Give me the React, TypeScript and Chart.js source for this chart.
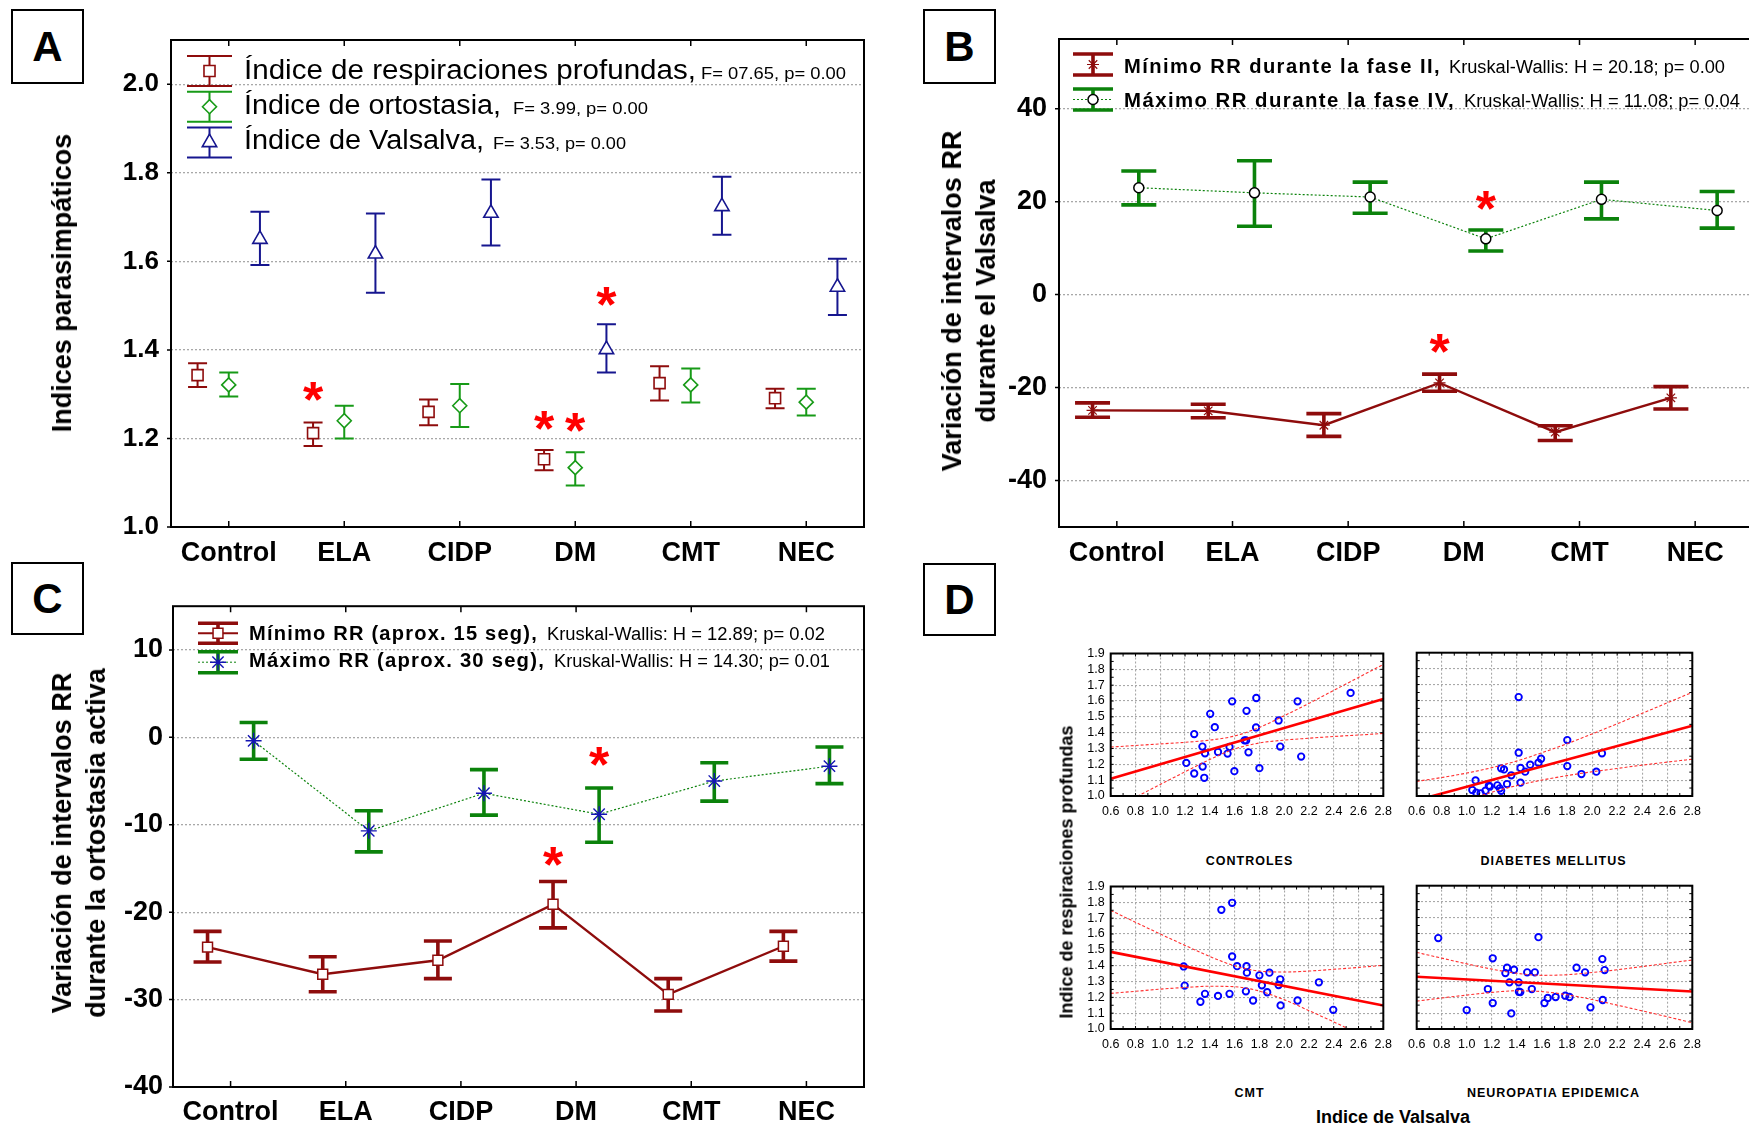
import React, { useEffect, useRef } from 'react';
import { Chart, registerables } from 'chart.js';

Chart.register(...registerables);

const FONT = '"Liberation Sans", Arial, Helvetica, sans-serif';

// ===================== DATA =====================
const categories = ['Control', 'ELA', 'CIDP', 'DM', 'CMT', 'NEC'];

// ---- Panel A : índices parasimpáticos (media, límite inferior, límite superior)
const aYTicks = [1.0, 1.2, 1.4, 1.6, 1.8, 2.0];
const aRespMean = [1.343, 1.212, 1.26, 1.153, 1.325, 1.291];
const aRespLow = [1.316, 1.183, 1.23, 1.128, 1.286, 1.268];
const aRespHigh = [1.37, 1.236, 1.288, 1.174, 1.363, 1.312];
const aOrtoMean = [1.321, 1.24, 1.274, 1.134, 1.321, 1.282];
const aOrtoLow = [1.295, 1.2, 1.226, 1.094, 1.281, 1.252];
const aOrtoHigh = [1.349, 1.274, 1.323, 1.169, 1.358, 1.312];
const aValsMean = [1.65, 1.617, 1.709, 1.401, 1.724, 1.542];
const aValsLow = [1.592, 1.529, 1.636, 1.349, 1.66, 1.479];
const aValsHigh = [1.712, 1.708, 1.785, 1.458, 1.791, 1.606];
const aNames = ['Índice de respiraciones profundas,', 'Índice de ortostasia,', 'Índice de Valsalva,'];
const aStats = ['F= 07.65, p= 0.00', 'F= 3.99, p= 0.00', 'F= 3.53, p= 0.00'];
const aSigCat = [1, 3, 3, 3];
const aSigSeries = [0, 0, 1, 2];
const aSigY = [1.303, 1.238, 1.234, 1.517];

// ---- Panel B : Valsalva
const bYTicks = [-40, -20, 0, 20, 40];
const bMinMean = [-24.9, -25.0, -28.1, -19.0, -29.6, -22.2];
const bMinLow = [-26.4, -26.5, -30.5, -20.8, -31.4, -24.6];
const bMinHigh = [-23.3, -23.6, -25.6, -17.1, -28.2, -19.8];
const bMaxMean = [23.0, 21.9, 21.0, 12.0, 20.5, 18.1];
const bMaxLow = [19.3, 14.7, 17.5, 9.4, 16.3, 14.3];
const bMaxHigh = [26.6, 28.8, 24.2, 13.9, 24.2, 22.2];
const bNames = ['Mínimo RR durante la fase II,', 'Máximo RR durante la fase IV,'];
const bStats = ['Kruskal-Wallis: H = 20.18; p= 0.00', 'Kruskal-Wallis: H = 11.08; p= 0.04'];
const bSigCat = [3, 3];
const bSigSeries = [0, 1];
const bSigY = [-10.8, 20.1];

// ---- Panel C : ortostasia activa
const cYTicks = [-40, -30, -20, -10, 0, 10];
const cMinMean = [-24.0, -27.1, -25.5, -19.1, -29.4, -23.9];
const cMinLow = [-25.7, -29.1, -27.6, -21.8, -31.3, -25.6];
const cMinHigh = [-22.2, -25.1, -23.3, -16.5, -27.6, -22.2];
const cMaxMean = [-0.4, -10.7, -6.4, -8.8, -5.0, -3.3];
const cMaxLow = [-2.5, -13.1, -8.9, -12.0, -7.3, -5.3];
const cMaxHigh = [1.7, -8.4, -3.7, -5.8, -2.9, -1.1];
const cNames = ['Mínimo RR (aprox. 15 seg),', 'Máximo RR (aprox. 30 seg),'];
const cStats = ['Kruskal-Wallis: H = 12.89; p= 0.02', 'Kruskal-Wallis: H = 14.30; p= 0.01'];
const cSigCat = [3, 3];
const cSigSeries = [0, 1];
const cSigY = [-13.8, -2.3];

// ---- Panel D : dispersión Valsalva vs respiraciones profundas
const dXTicks = [0.6, 0.8, 1.0, 1.2, 1.4, 1.6, 1.8, 2.0, 2.2, 2.4, 2.6, 2.8];
const dYTicks = [1.0, 1.1, 1.2, 1.3, 1.4, 1.5, 1.6, 1.7, 1.8, 1.9];
const dTitles = ['CONTROLES', 'DIABETES MELLITUS', 'CMT', 'NEUROPATIA EPIDEMICA'];
const dXTitle = 'Indice de Valsalva';
const dYTitle = 'Indice de respiraciones profundas';
const bandX = [0.6, 0.8, 1.0, 1.2, 1.4, 1.6, 1.8, 2.0, 2.2, 2.4, 2.6, 2.8];
const fitX = [0.6, 2.8];

const ctrlX = [1.58, 1.775, 1.696, 1.403, 1.44, 1.274, 1.773, 1.955, 2.108, 2.536, 1.68, 1.693, 1.34, 1.361, 1.466, 1.543, 1.559, 1.712, 1.968, 2.137, 1.21, 1.342, 1.274, 1.355, 1.598, 1.8];
const ctrlY = [1.598, 1.619, 1.538, 1.519, 1.435, 1.391, 1.433, 1.477, 1.598, 1.651, 1.351, 1.351, 1.312, 1.27, 1.278, 1.268, 1.31, 1.276, 1.312, 1.249, 1.209, 1.186, 1.142, 1.115, 1.157, 1.176];
const ctrlFit = [1.109, 1.613];
const ctrlUpper = [1.309, 1.319, 1.329, 1.339, 1.353, 1.379, 1.433, 1.507, 1.585, 1.667, 1.749, 1.831];
const ctrlLower = [0.909, 0.992, 1.073, 1.153, 1.231, 1.297, 1.335, 1.353, 1.365, 1.376, 1.385, 1.395];

const dmX = [1.414, 1.802, 1.414, 2.079, 1.593, 1.572, 1.506, 1.802, 1.274, 1.297, 1.429, 1.466, 1.355, 1.321, 1.429, 1.915, 2.034, 1.07, 1.044, 1.075, 1.11, 1.149, 1.184, 1.244, 1.274, 1.263, 1.176];
const dmY = [1.621, 1.351, 1.272, 1.268, 1.234, 1.209, 1.197, 1.188, 1.174, 1.167, 1.176, 1.153, 1.13, 1.075, 1.084, 1.138, 1.153, 1.098, 1.038, 1.021, 1.017, 1.033, 1.059, 1.067, 1.033, 1.048, 1.065];
const dmFit = [0.973, 1.441];
const dmUpper = [1.092, 1.116, 1.144, 1.178, 1.22, 1.272, 1.328, 1.39, 1.453, 1.519, 1.585, 1.651];
const dmLower = [0.854, 0.916, 0.972, 1.024, 1.066, 1.1, 1.128, 1.152, 1.173, 1.194, 1.213, 1.231];

const cmtX = [1.58, 1.493, 1.58, 1.62, 1.696, 1.699, 1.8, 1.881, 1.189, 1.197, 1.82, 1.968, 1.955, 1.691, 1.863, 2.28, 1.559, 1.361, 1.466, 1.324, 1.749, 2.108, 1.971, 2.396];
const cmtY = [1.797, 1.753, 1.458, 1.397, 1.397, 1.356, 1.339, 1.356, 1.395, 1.274, 1.276, 1.314, 1.278, 1.238, 1.232, 1.295, 1.222, 1.222, 1.209, 1.172, 1.18, 1.18, 1.149, 1.121];
const cmtFit = [1.487, 1.149];
const cmtUpper = [1.749, 1.674, 1.6, 1.528, 1.458, 1.399, 1.366, 1.36, 1.366, 1.377, 1.389, 1.402];
const cmtLower = [1.225, 1.238, 1.252, 1.262, 1.27, 1.267, 1.24, 1.185, 1.116, 1.045, 0.971, 0.896];

const necX = [0.772, 1.572, 1.207, 2.082, 1.321, 1.377, 1.308, 1.482, 1.543, 1.876, 1.944, 2.1, 1.34, 1.414, 1.168, 1.427, 1.416, 1.519, 1.207, 0.999, 1.355, 1.62, 1.646, 1.709, 1.786, 1.82, 1.987, 2.085];
const necY = [1.571, 1.577, 1.444, 1.439, 1.385, 1.372, 1.351, 1.356, 1.356, 1.385, 1.356, 1.37, 1.293, 1.293, 1.251, 1.232, 1.234, 1.251, 1.163, 1.119, 1.098, 1.163, 1.195, 1.201, 1.209, 1.201, 1.136, 1.182];
const necFit = [1.328, 1.236];
const necUpper = [1.481, 1.445, 1.409, 1.376, 1.35, 1.337, 1.341, 1.355, 1.372, 1.392, 1.413, 1.433];
const necLower = [1.175, 1.195, 1.213, 1.23, 1.24, 1.235, 1.215, 1.185, 1.15, 1.114, 1.077, 1.039];

// ===================== STYLE =====================
const RED = '#8e0c0c';
const GREEN_A = '#179a17';
const BLUE = '#16168f';
const GREEN = '#0b820b';
const STAR_BLUE = '#1414b4';
const SIG = '#ff0000';
const GRID = '#a8a8a8';

interface LineDef { color: string; width: number; dash: number[] }
interface SeriesDef {
  mean: number[]; low: number[]; high: number[]; offset: number; color: string;
  barWidth: number; capHalf: number; marker: string; radius: number;
  mStroke: string; mFill: string; mWidth: number; line: LineDef | null;
}
interface LegendRow {
  series: number; cy: number; capDy: number; name: string; stat: string;
  nameX: number; nameW: number; statX: number; statW: number; baseline: number; line: LineDef | null;
}
interface PanelDef {
  left: number; top: number; w: number; h: number;
  area: { l: number; t: number; r: number; b: number };
  yMin: number; yMax: number; yTicks: number[]; yFmt: (v: number) => string;
  yPad: number; xPad: number; tickSize: number;
  series: SeriesDef[];
  legend: { iconX: number; iconHalf: number; nameFont: string; statFont: string; spacing: number; rows: LegendRow[] };
  sig: { cat: number[]; series: number[]; y: number[] };
}

function drawMarker(ctx: CanvasRenderingContext2D, style: string, r: number, x: number, y: number, fill: string, stroke: string, lw: number) {
  ctx.save();
  ctx.setLineDash([]);
  ctx.lineWidth = lw;
  ctx.strokeStyle = stroke;
  ctx.fillStyle = fill;
  ctx.beginPath();
  if (style === 'rect') {
    const s = r * Math.SQRT1_2;
    ctx.rect(x - s, y - s, 2 * s, 2 * s);
  } else if (style === 'rectRot') {
    ctx.moveTo(x - r, y); ctx.lineTo(x, y - r); ctx.lineTo(x + r, y); ctx.lineTo(x, y + r); ctx.closePath();
  } else if (style === 'triangle') {
    ctx.moveTo(x, y - r); ctx.lineTo(x + 0.866 * r, y + 0.5 * r); ctx.lineTo(x - 0.866 * r, y + 0.5 * r); ctx.closePath();
  } else if (style === 'circle') {
    ctx.arc(x, y, r, 0, Math.PI * 2);
  } else if (style === 'star') {
    for (let k = 0; k < 4; k++) {
      const a = (k * Math.PI) / 4;
      ctx.moveTo(x - Math.cos(a) * r, y - Math.sin(a) * r);
      ctx.lineTo(x + Math.cos(a) * r, y + Math.sin(a) * r);
    }
  }
  if (style !== 'star') ctx.fill();
  ctx.stroke();
  ctx.restore();
}

function fitText(ctx: CanvasRenderingContext2D, text: string, x: number, baseline: number, width: number, font: string, spacing: number) {
  ctx.save();
  ctx.font = font;
  (ctx as any).letterSpacing = spacing + 'px';
  ctx.fillStyle = '#000';
  ctx.textAlign = 'left';
  ctx.textBaseline = 'alphabetic';
  const w = ctx.measureText(text).width;
  ctx.translate(x, baseline);
  ctx.scale(width / w, 1);
  ctx.fillText(text, 0, 0);
  ctx.restore();
}

function drawAsterisk(ctx: CanvasRenderingContext2D, x: number, y: number, h: number) {
  ctx.save();
  ctx.font = `bold 60px ${FONT}`;
  const m = ctx.measureText('*');
  const asc = m.actualBoundingBoxAscent;
  const desc = m.actualBoundingBoxDescent;
  const s = h / (asc + desc);
  ctx.translate(x, y);
  ctx.scale(s * 1.05, s);
  ctx.textAlign = 'center';
  ctx.textBaseline = 'alphabetic';
  ctx.fillStyle = SIG;
  ctx.fillText('*', 0, (asc - desc) / 2);
  ctx.restore();
}

function buildErrorChart(p: PanelDef): any {
  const ox = p.left, oy = p.top;
  const plugin = {
    id: 'errPanel',
    beforeDatasetsDraw(chart: any) {
      const ctx: CanvasRenderingContext2D = chart.ctx;
      const xs = chart.scales.x, ys = chart.scales.y;
      ctx.save();
      p.series.forEach((s) => {
        ctx.strokeStyle = s.color;
        ctx.lineWidth = s.barWidth;
        ctx.lineCap = 'butt';
        ctx.setLineDash([]);
        s.mean.forEach((_, i) => {
          const x = xs.getPixelForValue(i + s.offset);
          const yl = ys.getPixelForValue(s.low[i]);
          const yh = ys.getPixelForValue(s.high[i]);
          ctx.beginPath();
          ctx.moveTo(x, yl); ctx.lineTo(x, yh);
          ctx.moveTo(x - s.capHalf, yl); ctx.lineTo(x + s.capHalf, yl);
          ctx.moveTo(x - s.capHalf, yh); ctx.lineTo(x + s.capHalf, yh);
          ctx.stroke();
        });
      });
      ctx.restore();
    },
    afterDatasetsDraw(chart: any) {
      const ctx: CanvasRenderingContext2D = chart.ctx;
      const xs = chart.scales.x, ys = chart.scales.y;
      p.sig.cat.forEach((c, k) => {
        const s = p.series[p.sig.series[k]];
        drawAsterisk(ctx, xs.getPixelForValue(c + s.offset), ys.getPixelForValue(p.sig.y[k]), 19);
      });
    },
    afterDraw(chart: any) {
      const ctx: CanvasRenderingContext2D = chart.ctx;
      const a = chart.chartArea;
      const xs = chart.scales.x, ys = chart.scales.y;
      ctx.save();
      ctx.setLineDash([]);
      ctx.strokeStyle = '#000';
      ctx.lineWidth = 2;
      ctx.strokeRect(a.left, a.top, a.right - a.left, a.bottom - a.top);
      ctx.lineWidth = 1.5;
      ctx.beginPath();
      categories.forEach((_, i) => {
        const x = xs.getPixelForValue(i);
        ctx.moveTo(x, a.top); ctx.lineTo(x, a.top + 6);
        ctx.moveTo(x, a.bottom); ctx.lineTo(x, a.bottom - 6);
      });
      p.yTicks.forEach((v) => {
        const y = ys.getPixelForValue(v);
        ctx.moveTo(a.left - 4, y); ctx.lineTo(a.left, y);
      });
      ctx.stroke();
      // legend
      const L = p.legend;
      L.rows.forEach((row) => {
        const s = p.series[row.series];
        const cx = L.iconX - ox, cy = row.cy - oy, h = L.iconHalf;
        if (row.line) {
          ctx.save();
          ctx.strokeStyle = row.line.color;
          ctx.lineWidth = row.line.width;
          ctx.setLineDash(row.line.dash);
          ctx.beginPath();
          ctx.moveTo(cx - h, cy); ctx.lineTo(cx + h, cy);
          ctx.stroke();
          ctx.restore();
        }
        ctx.strokeStyle = s.color;
        ctx.lineWidth = s.barWidth;
        ctx.setLineDash([]);
        ctx.beginPath();
        ctx.moveTo(cx, cy - row.capDy); ctx.lineTo(cx, cy + row.capDy);
        ctx.moveTo(cx - h, cy - row.capDy); ctx.lineTo(cx + h, cy - row.capDy);
        ctx.moveTo(cx - h, cy + row.capDy); ctx.lineTo(cx + h, cy + row.capDy);
        ctx.stroke();
        drawMarker(ctx, s.marker, s.radius, cx, cy, s.mFill, s.mStroke, s.mWidth);
        fitText(ctx, row.name, row.nameX - ox, row.baseline - oy, row.nameW, L.nameFont, L.spacing);
        fitText(ctx, row.stat, row.statX - ox, row.baseline - oy, row.statW, L.statFont, 0);
      });
      ctx.restore();
    },
  };

  const datasets = p.series.map((s) => ({
    type: 'line',
    data: s.mean.map((m, i) => ({ x: i + s.offset, y: m })),
    showLine: !!s.line,
    borderColor: s.line ? s.line.color : s.color,
    borderWidth: s.line ? s.line.width : 0,
    borderDash: s.line ? s.line.dash : [],
    tension: 0,
    pointStyle: s.marker,
    pointRadius: s.radius,
    pointBackgroundColor: s.mFill,
    pointBorderColor: s.mStroke,
    pointBorderWidth: s.mWidth,
    clip: false,
  }));

  const tickFont = { family: FONT, size: p.tickSize, weight: 'bold' as const };
  return {
    type: 'line',
    data: { datasets },
    options: {
      responsive: false,
      animation: false,
      devicePixelRatio: 1,
      events: [],
      layout: { autoPadding: false, padding: { left: 0, top: p.area.t - oy, right: ox + p.w - p.area.r, bottom: 0 } },
      plugins: { legend: { display: false }, tooltip: { enabled: false }, title: { display: false } },
      scales: {
        x: {
          type: 'linear', min: -0.5, max: 5.5,
          afterBuildTicks: (sc: any) => { sc.ticks = categories.map((_, i) => ({ value: i })); },
          afterFit: (sc: any) => { sc.height = oy + p.h - p.area.b; },
          ticks: { callback: (v: number) => categories[v] ?? '', font: { family: FONT, size: 27, weight: 'bold' }, color: '#000', padding: p.xPad, autoSkip: false, maxRotation: 0, minRotation: 0 },
          grid: { display: false, drawTicks: false },
          border: { display: false },
        },
        y: {
          type: 'linear', min: p.yMin, max: p.yMax,
          afterBuildTicks: (sc: any) => { sc.ticks = p.yTicks.map((v) => ({ value: v })); },
          afterFit: (sc: any) => { sc.width = p.area.l - ox; },
          ticks: { callback: (v: number) => p.yFmt(v), font: tickFont, color: '#000', padding: p.yPad, autoSkip: false },
          grid: { color: GRID, lineWidth: 1.3, drawTicks: false },
          border: { display: false, dash: [2, 2] },
        },
      },
    },
    plugins: [plugin],
  };
}

interface ScatterDef {
  left: number; top: number; w: number; h: number;
  area: { l: number; t: number; r: number; b: number };
  px: number[]; py: number[]; fit: number[]; upper: number[]; lower: number[]; showY: boolean;
}

function buildScatter(d: ScatterDef): any {
  const ox = d.left, oy = d.top;
  const plugin = {
    id: 'scFrame',
    afterDraw(chart: any) {
      const ctx: CanvasRenderingContext2D = chart.ctx;
      const a = chart.chartArea;
      const xs = chart.scales.x, ys = chart.scales.y;
      ctx.save();
      ctx.setLineDash([]);
      ctx.strokeStyle = '#000';
      ctx.lineWidth = 2;
      ctx.strokeRect(a.left, a.top, a.right - a.left, a.bottom - a.top);
      ctx.lineWidth = 1;
      ctx.beginPath();
      for (let k = 6; k <= 28; k++) {
        const x = xs.getPixelForValue(k / 10);
        ctx.moveTo(x, a.top); ctx.lineTo(x, a.top + 3);
        ctx.moveTo(x, a.bottom); ctx.lineTo(x, a.bottom - 3);
      }
      for (let k = 20; k <= 38; k++) {
        const y = ys.getPixelForValue(k / 20);
        ctx.moveTo(a.left, y); ctx.lineTo(a.left + 3, y);
        ctx.moveTo(a.right, y); ctx.lineTo(a.right - 3, y);
      }
      ctx.stroke();
      ctx.restore();
    },
  };
  const tickFont = { family: FONT, size: 12.5 };
  return {
    type: 'line',
    data: {
      datasets: [
        { data: bandX.map((x, i) => ({ x, y: d.upper[i] })), borderColor: '#ff3030', borderWidth: 1.1, borderDash: [3, 2], pointRadius: 0, cubicInterpolationMode: 'monotone' },
        { data: bandX.map((x, i) => ({ x, y: d.lower[i] })), borderColor: '#ff3030', borderWidth: 1.1, borderDash: [3, 2], pointRadius: 0, cubicInterpolationMode: 'monotone' },
        { data: fitX.map((x, i) => ({ x, y: d.fit[i] })), borderColor: '#ff0000', borderWidth: 2.6, pointRadius: 0 },
        { data: d.px.map((x, i) => ({ x, y: d.py[i] })), showLine: false, pointStyle: 'circle', pointRadius: 3.2, pointBorderWidth: 1.9, pointBorderColor: '#0000ff', pointBackgroundColor: 'rgba(255,255,255,0)' },
      ],
    },
    options: {
      responsive: false,
      animation: false,
      devicePixelRatio: 1,
      events: [],
      layout: { autoPadding: false, padding: { left: 0, top: d.area.t - oy, right: ox + d.w - d.area.r, bottom: 0 } },
      plugins: { legend: { display: false }, tooltip: { enabled: false } },
      scales: {
        x: {
          type: 'linear', min: 0.6, max: 2.8,
          afterBuildTicks: (sc: any) => { sc.ticks = dXTicks.map((v) => ({ value: v })); },
          afterFit: (sc: any) => { sc.height = oy + d.h - d.area.b; },
          ticks: { callback: (v: number) => v.toFixed(1), font: tickFont, color: '#000', padding: 8, autoSkip: false, maxRotation: 0, minRotation: 0 },
          grid: { color: GRID, lineWidth: 1.1, drawTicks: false },
          border: { display: false, dash: [2, 2] },
        },
        y: {
          type: 'linear', min: 1.0, max: 1.9,
          afterBuildTicks: (sc: any) => { sc.ticks = dYTicks.map((v) => ({ value: v })); },
          afterFit: (sc: any) => { sc.width = d.area.l - ox; },
          ticks: { display: d.showY, callback: (v: number) => v.toFixed(1), font: tickFont, color: '#000', padding: 6, autoSkip: false },
          grid: { color: GRID, lineWidth: 1.1, drawTicks: false },
          border: { display: false, dash: [2, 2] },
        },
      },
    },
    plugins: [plugin],
  };
}

// ===================== PANELS =====================
const panelA: PanelDef = {
  left: 0, top: 0, w: 900, h: 580,
  area: { l: 171, t: 40, r: 864, b: 527 },
  yMin: 1.0, yMax: 2.1, yTicks: aYTicks, yFmt: (v) => v.toFixed(1), yPad: 12, xPad: 10, tickSize: 26,
  series: [
    { mean: aRespMean, low: aRespLow, high: aRespHigh, offset: -0.27, color: RED, barWidth: 2, capHalf: 9.5, marker: 'rect', radius: 7.8, mStroke: RED, mFill: '#fff', mWidth: 1.6, line: null },
    { mean: aOrtoMean, low: aOrtoLow, high: aOrtoHigh, offset: 0, color: GREEN_A, barWidth: 2, capHalf: 9.5, marker: 'rectRot', radius: 7, mStroke: GREEN_A, mFill: '#fff', mWidth: 1.6, line: null },
    { mean: aValsMean, low: aValsLow, high: aValsHigh, offset: 0.27, color: BLUE, barWidth: 2, capHalf: 9.5, marker: 'triangle', radius: 8.3, mStroke: BLUE, mFill: '#fff', mWidth: 1.6, line: null },
  ],
  legend: {
    iconX: 209.5, iconHalf: 22.5, nameFont: `27px ${FONT}`, statFont: `17px ${FONT}`, spacing: 0,
    rows: [
      { series: 0, cy: 71, capDy: 15, name: aNames[0], stat: aStats[0], nameX: 244, nameW: 452, statX: 701, statW: 145, baseline: 78.5, line: null },
      { series: 1, cy: 106.7, capDy: 15, name: aNames[1], stat: aStats[1], nameX: 244, nameW: 257, statX: 513, statW: 135, baseline: 113.5, line: null },
      { series: 2, cy: 142.5, capDy: 15, name: aNames[2], stat: aStats[2], nameX: 244, nameW: 240, statX: 493, statW: 133, baseline: 148.5, line: null },
    ],
  },
  sig: { cat: aSigCat, series: aSigSeries, y: aSigY },
};

const panelB: PanelDef = {
  left: 900, top: 0, w: 860, h: 580,
  area: { l: 1059, t: 39, r: 1753, b: 527 },
  yMin: -50, yMax: 55, yTicks: bYTicks, yFmt: (v) => String(v), yPad: 12, xPad: 10, tickSize: 27,
  series: [
    { mean: bMinMean, low: bMinLow, high: bMinHigh, offset: -0.21, color: RED, barWidth: 3.6, capHalf: 17.5, marker: 'star', radius: 6, mStroke: RED, mFill: RED, mWidth: 1.2, line: { color: RED, width: 2.4, dash: [] } },
    { mean: bMaxMean, low: bMaxLow, high: bMaxHigh, offset: 0.19, color: GREEN, barWidth: 3.6, capHalf: 17.5, marker: 'circle', radius: 5, mStroke: '#000', mFill: '#fff', mWidth: 1.5, line: { color: GREEN, width: 1.2, dash: [2, 2] } },
  ],
  legend: {
    iconX: 1093, iconHalf: 20, nameFont: `bold 21px ${FONT}`, statFont: `18px ${FONT}`, spacing: 1.5,
    rows: [
      { series: 0, cy: 64.5, capDy: 10.5, name: bNames[0], stat: bStats[0], nameX: 1124, nameW: 317, statX: 1449, statW: 276, baseline: 73, line: null },
      { series: 1, cy: 99.5, capDy: 10.5, name: bNames[1], stat: bStats[1], nameX: 1124, nameW: 331, statX: 1464, statW: 276, baseline: 106.5, line: { color: GREEN, width: 1, dash: [2, 2] } },
    ],
  },
  sig: { cat: bSigCat, series: bSigSeries, y: bSigY },
};

const panelC: PanelDef = {
  left: 0, top: 580, w: 900, h: 547,
  area: { l: 173, t: 600, r: 864, b: 1087 },
  yMin: -40, yMax: 15, yTicks: cYTicks, yFmt: (v) => String(v), yPad: 10, xPad: 9, tickSize: 27,
  series: [
    { mean: cMinMean, low: cMinLow, high: cMinHigh, offset: -0.2, color: RED, barWidth: 3.6, capHalf: 14, marker: 'rect', radius: 7, mStroke: RED, mFill: '#fff', mWidth: 1.5, line: { color: RED, width: 2.4, dash: [] } },
    { mean: cMaxMean, low: cMaxLow, high: cMaxHigh, offset: 0.2, color: GREEN, barWidth: 3.6, capHalf: 14, marker: 'star', radius: 8, mStroke: STAR_BLUE, mFill: STAR_BLUE, mWidth: 1.4, line: { color: GREEN, width: 1.2, dash: [2, 2] } },
  ],
  legend: {
    iconX: 218, iconHalf: 20, nameFont: `bold 20px ${FONT}`, statFont: `18px ${FONT}`, spacing: 1.2,
    rows: [
      { series: 0, cy: 633.3, capDy: 10, name: cNames[0], stat: cStats[0], nameX: 249, nameW: 289, statX: 547, statW: 278, baseline: 639.5, line: { color: RED, width: 2, dash: [] } },
      { series: 1, cy: 662.2, capDy: 10.5, name: cNames[1], stat: cStats[1], nameX: 249, nameW: 296, statX: 554, statW: 276, baseline: 667, line: { color: GREEN, width: 1, dash: [2, 2] } },
    ],
  },
  sig: { cat: cSigCat, series: cSigSeries, y: cSigY },
};

const scatterDefs: ScatterDef[] = [
  { left: 1075, top: 640, w: 325, h: 190, area: { l: 1110.7, t: 652.7, r: 1388.3, b: 796 }, px: ctrlX, py: ctrlY, fit: ctrlFit, upper: ctrlUpper, lower: ctrlLower, showY: true },
  { left: 1400, top: 640, w: 320, h: 190, area: { l: 1414.7, t: 652.7, r: 1692.3, b: 796 }, px: dmX, py: dmY, fit: dmFit, upper: dmUpper, lower: dmLower, showY: false },
  { left: 1075, top: 873, w: 325, h: 190, area: { l: 1110.7, t: 885.7, r: 1388.3, b: 1029 }, px: cmtX, py: cmtY, fit: cmtFit, upper: cmtUpper, lower: cmtLower, showY: true },
  { left: 1400, top: 873, w: 320, h: 190, area: { l: 1414.7, t: 885.7, r: 1692.3, b: 1029 }, px: necX, py: necY, fit: necFit, upper: necUpper, lower: necLower, showY: false },
];

// ===================== COMPONENTS =====================
function ChartCanvas({ left, top, w, h, build }: { left: number; top: number; w: number; h: number; build: () => any }) {
  const ref = useRef<HTMLCanvasElement>(null);
  useEffect(() => {
    const chart = new Chart(ref.current as HTMLCanvasElement, build());
    return () => chart.destroy();
  }, []);
  return <canvas ref={ref} width={w} height={h} style={{ position: 'absolute', left, top, width: w, height: h }} />;
}

function Txt({ x, y, rot = 0, style, children }: { x: number; y: number; rot?: number; style: React.CSSProperties; children: React.ReactNode }) {
  return (
    <div
      style={{
        position: 'absolute', left: x, top: y, whiteSpace: 'nowrap', color: '#000', fontFamily: FONT,
        transform: `translate(-50%, -50%) rotate(${rot}deg)`, textAlign: 'center', ...style,
      }}
    >
      {children}
    </div>
  );
}

function Box({ x, y, w, h, letter }: { x: number; y: number; w: number; h: number; letter: string }) {
  return (
    <div
      style={{
        position: 'absolute', left: x, top: y, width: w, height: h, boxSizing: 'border-box', border: '2px solid #000',
        display: 'flex', alignItems: 'center', justifyContent: 'center', fontFamily: FONT, fontWeight: 'bold', fontSize: 42, background: '#fff',
      }}
    >
      {letter}
    </div>
  );
}

export default function App() {
  const yTitle: React.CSSProperties = { fontWeight: 'bold', fontSize: 27, lineHeight: '34px' };
  const dTitle: React.CSSProperties = { fontWeight: 'bold', fontSize: 12.5, letterSpacing: 1 };
  return (
    <div style={{ position: 'absolute', left: 0, top: 0, width: 1749, height: 1127, overflow: 'hidden', background: '#fff' }}>
      <ChartCanvas left={panelA.left} top={panelA.top} w={panelA.w} h={panelA.h} build={() => buildErrorChart(panelA)} />
      <ChartCanvas left={panelB.left} top={panelB.top} w={panelB.w} h={panelB.h} build={() => buildErrorChart(panelB)} />
      <ChartCanvas left={panelC.left} top={panelC.top} w={panelC.w} h={panelC.h} build={() => buildErrorChart(panelC)} />
      {scatterDefs.map((d, i) => (
        <ChartCanvas key={i} left={d.left} top={d.top} w={d.w} h={d.h} build={() => buildScatter(d)} />
      ))}

      <Box x={11} y={9} w={73} h={75} letter="A" />
      <Box x={923} y={9} w={73} h={75} letter="B" />
      <Box x={11} y={562} w={73} h={73} letter="C" />
      <Box x={923} y={563} w={73} h={73} letter="D" />

      <Txt x={62} y={283} rot={-90} style={yTitle}>Indices parasimpáticos</Txt>
      <Txt x={969} y={301} rot={-90} style={yTitle}>Variación de intervalos RR<br />durante el Valsalva</Txt>
      <Txt x={79} y={842.5} rot={-90} style={yTitle}>Variación de intervalos RR<br />durante la ortostasia activa</Txt>

      <Txt x={1249.5} y={861} style={dTitle}>{dTitles[0]}</Txt>
      <Txt x={1553.5} y={861} style={dTitle}>{dTitles[1]}</Txt>
      <Txt x={1249.5} y={1093} style={dTitle}>{dTitles[2]}</Txt>
      <Txt x={1553.5} y={1093} style={dTitle}>{dTitles[3]}</Txt>
      <Txt x={1393} y={1117} style={{ fontWeight: 'bold', fontSize: 18 }}>{dXTitle}</Txt>
      <Txt x={1067} y={872} rot={-90} style={{ fontWeight: 'bold', fontSize: 18 }}>{dYTitle}</Txt>
    </div>
  );
}
